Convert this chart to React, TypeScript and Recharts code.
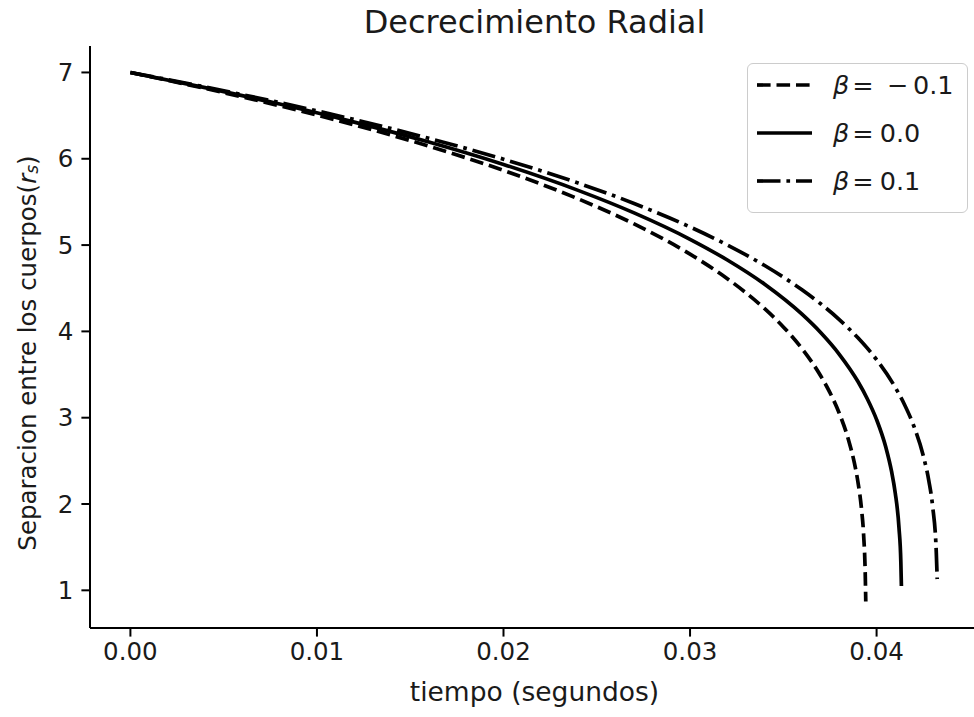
import { Legend, Line, LineChart, XAxis, YAxis } from 'recharts';

// time (s) and separation (r_s), one pair of arrays per beta
const T_NEG = [0, 0.004, 0.008, 0.012, 0.016, 0.02, 0.024, 0.027, 0.03, 0.032, 0.034, 0.035, 0.036, 0.037, 0.0375, 0.038, 0.0385, 0.0388, 0.039, 0.0392, 0.0393, 0.0394, 0.03942];
const R_NEG = [7.0, 6.815, 6.614, 6.393, 6.146, 5.865, 5.536, 5.245, 4.895, 4.611, 4.263, 4.052, 3.8, 3.486, 3.29, 3.052, 2.739, 2.485, 2.256, 1.924, 1.66, 1.107, 0.87];

const T_ZERO = [0, 0.004, 0.008, 0.012, 0.016, 0.02, 0.024, 0.027, 0.03, 0.032, 0.034, 0.036, 0.037, 0.038, 0.039, 0.0395, 0.04, 0.0405, 0.0408, 0.041, 0.0412, 0.0413, 0.04133];
const R_ZERO = [7.0, 6.824, 6.634, 6.425, 6.194, 5.934, 5.634, 5.373, 5.067, 4.827, 4.546, 4.199, 3.987, 3.735, 3.419, 3.22, 2.978, 2.654, 2.38, 2.128, 1.727, 1.33, 1.05];

const T_POS = [0, 0.004, 0.008, 0.012, 0.016, 0.02, 0.024, 0.027, 0.03, 0.032, 0.034, 0.036, 0.037, 0.038, 0.039, 0.04, 0.041, 0.0415, 0.042, 0.0425, 0.0428, 0.043, 0.0432, 0.04325];
const R_POS = [7.0, 6.832, 6.651, 6.454, 6.237, 5.995, 5.719, 5.482, 5.21, 5.001, 4.763, 4.482, 4.32, 4.137, 3.925, 3.672, 3.352, 3.15, 2.901, 2.562, 2.27, 1.981, 1.44, 1.13];

const BETAS = ['−0.1', '0.0', '0.1'];
const X_TICKS = [0, 0.01, 0.02, 0.03, 0.04];
const Y_TICKS = [1, 2, 3, 4, 5, 6, 7];

const X_DOMAIN = [-0.002166, 0.04549];
const Y_DOMAIN = [0.5635, 7.3065];

const FONT = '"DejaVu Sans", sans-serif';
const TEXT = '#1a1a1a';

const toRows = (ts: number[], rs: number[]) => ts.map((t, i) => ({ t, r: rs[i] }));

const series = [
  { name: BETAS[0], data: toRows(T_NEG, R_NEG), dash: '13.6 5.9' },
  { name: BETAS[1], data: toRows(T_ZERO, R_ZERO), dash: undefined },
  { name: BETAS[2], data: toRows(T_POS, R_POS), dash: '23.5 5.9 3.7 5.9' },
];

function BetaText({ value }: { value: string }) {
  const neg = value.startsWith('−');
  return (
    <>
      <tspan fontStyle="italic">β</tspan>
      <tspan dx={3}>=</tspan>
      {neg ? (
        <>
          <tspan dx={13}>−</tspan>
          <tspan dx={5}>{value.slice(1)}</tspan>
        </>
      ) : (
        <tspan dx={6}>{value}</tspan>
      )}
    </>
  );
}

function LegendBox() {
  return (
    <div
      style={{
        width: 221,
        height: 150,
        boxSizing: 'border-box',
        border: '1.5px solid #cccccc',
        borderRadius: 6,
        background: 'rgba(255,255,255,0.8)',
      }}
    >
      <svg width={219} height={148}>
        {series.map((s, i) => {
          const y = 21 + i * 48;
          return (
            <g key={s.name}>
              <line
                x1={9}
                x2={64}
                y1={y}
                y2={y}
                stroke="#000"
                strokeWidth={3.7}
                strokeDasharray={s.dash}
              />
              <text
                x={85}
                y={y + 9}
                fontSize={25.5}
                fontFamily={FONT}
                fill={TEXT}
              >
                <BetaText value={s.name} />
              </text>
            </g>
          );
        })}
      </svg>
    </div>
  );
}

function YLabel(props: any) {
  const vb = props.viewBox || { x: 0, y: 46, width: 90, height: 582 };
  const cx = 27;
  const cy = vb.y + vb.height / 2 + 16;
  return (
    <text
      x={cx}
      y={cy}
      transform={`rotate(-90, ${cx}, ${cy})`}
      textAnchor="middle"
      dominantBaseline="central"
      fontSize={24.5}
      fontFamily={FONT}
      fill={TEXT}
    >
      Separacion entre los cuerpos(
      <tspan fontStyle="italic">r</tspan>
      <tspan fontStyle="italic" fontSize={17} dy={5}>s</tspan>
      <tspan dy={-5}>)</tspan>
    </text>
  );
}

function XLabel(props: any) {
  const vb = props.viewBox || { x: 90, y: 628, width: 889, height: 89 };
  return (
    <text
      x={vb.x + vb.width / 2}
      y={701}
      textAnchor="middle"
      fontSize={26.5}
      fontFamily={FONT}
      fill={TEXT}
    >
      tiempo (segundos)
    </text>
  );
}

export default function App() {
  return (
    <div
      style={{
        position: 'absolute',
        left: 0,
        top: 0,
        width: 974,
        height: 717,
        overflow: 'hidden',
        background: '#fff',
        fontFamily: FONT,
      }}
    >
      <div
        style={{
          position: 'absolute',
          left: 90,
          width: 889,
          top: 4,
          textAlign: 'center',
          fontSize: 32,
          color: TEXT,
          lineHeight: '36px',
        }}
      >
        Decrecimiento Radial
      </div>
      <LineChart
        width={990}
        height={717}
        margin={{ top: 46, right: 11, bottom: 0, left: 0 }}
      >
        <XAxis
          type="number"
          dataKey="t"
          domain={X_DOMAIN}
          allowDataOverflow
          ticks={X_TICKS}
          tickFormatter={(v: number) => v.toFixed(2)}
          height={89}
          tickSize={8.6}
          tickMargin={6}
          tick={{ fill: TEXT, fontSize: 24.5, fontFamily: FONT }}
          tickLine={{ stroke: '#000', strokeWidth: 2 }}
          axisLine={{ stroke: '#000', strokeWidth: 2 }}
          label={<XLabel />}
        />
        <XAxis
          xAxisId="top"
          orientation="top"
          type="number"
          dataKey="t"
          domain={X_DOMAIN}
          height={0}
          tick={false}
          tickLine={false}
          axisLine={{ stroke: '#000', strokeWidth: 2 }}
        />
        <YAxis
          type="number"
          dataKey="r"
          domain={Y_DOMAIN}
          allowDataOverflow
          ticks={Y_TICKS}
          width={90}
          tickSize={8.6}
          tickMargin={8}
          tick={{ fill: TEXT, fontSize: 24.5, fontFamily: FONT }}
          tickLine={{ stroke: '#000', strokeWidth: 2 }}
          axisLine={{ stroke: '#000', strokeWidth: 2 }}
          label={<YLabel />}
        />
        {series.map((s) => (
          <Line
            key={s.name}
            data={s.data}
            dataKey="r"
            name={s.name}
            type="monotone"
            stroke="#000"
            strokeWidth={3.7}
            strokeDasharray={s.dash}
            dot={false}
            activeDot={false}
            isAnimationActive={false}
          />
        ))}
        <Legend
          layout="vertical"
          align="center"
          verticalAlign="middle"
          content={() => <LegendBox />}
          wrapperStyle={{ left: 747, top: 63, width: 221, height: 150 }}
        />
      </LineChart>
    </div>
  );
}
